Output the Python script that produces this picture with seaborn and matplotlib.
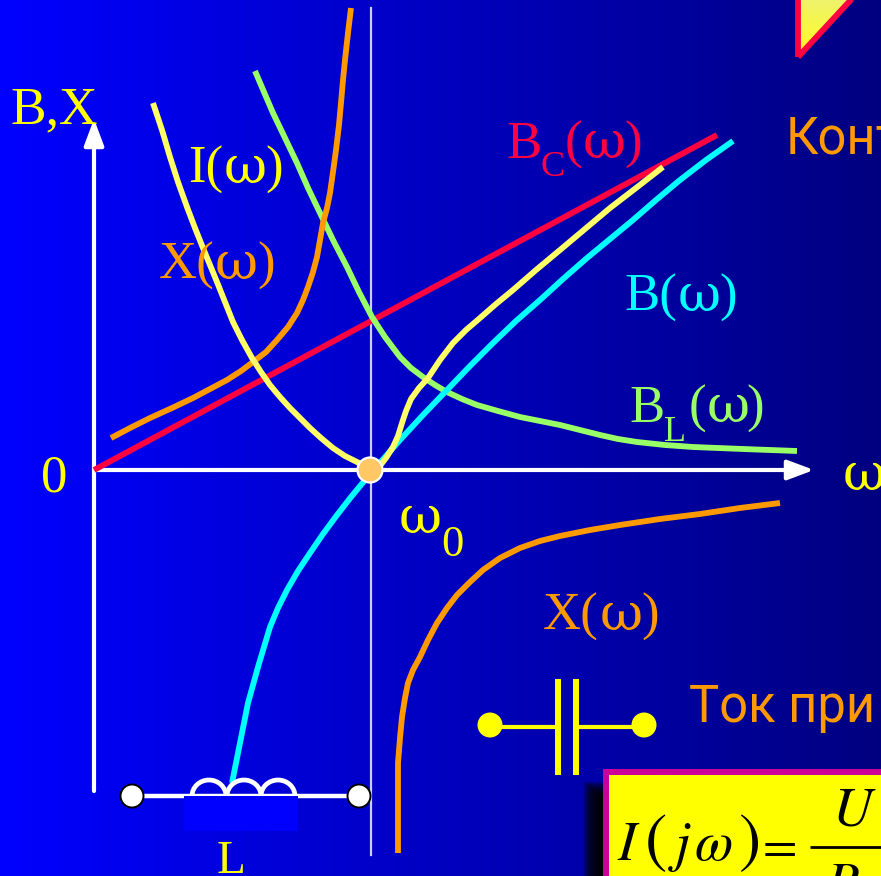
import numpy as np
import pandas as pd
import matplotlib
matplotlib.use('Agg')
import matplotlib.pyplot as plt
import seaborn as sns
from matplotlib.patches import Arc, Circle, Polygon, Rectangle

omega_bc = [0, 623]
b_c = [0, 335]

omega_bl = [161, 170, 179, 191, 203, 214, 226, 239, 253, 265, 278, 291, 306, 317, 329, 341, 353,
            368, 383, 404, 426, 446, 466, 486, 506, 524, 543, 571, 599, 624, 649, 676, 703]
b_l = [399, 378, 357, 332, 307, 282, 257, 230, 203, 178, 153, 133, 113, 102, 93, 85, 78,
       71, 65, 59, 53, 49, 45, 40, 35, 31, 28, 25, 23, 22, 21, 20, 19]

omega_b = [138, 142, 146, 150, 154, 159, 164, 170, 176, 184, 193, 204, 216, 229, 243, 257, 271,
           284, 306, 329, 353, 376, 399, 422, 446, 469, 493, 516, 539, 562, 586, 612, 639]
b_tot = [-313, -293, -273, -253, -233, -215, -197, -177, -157, -138, -120, -101, -83, -64, -45, -27, -10,
         5, 30, 55, 80, 104, 127, 149, 170, 191, 212, 231, 250, 270, 290, 310, 329]

omega_x1 = [17, 36, 56, 78, 99, 116, 133, 147, 159, 172, 183, 194, 203, 209, 214,
            219, 223, 226, 229, 233, 236, 239, 242, 245, 247, 249, 251, 254, 257]
x_upper = [32, 42, 52, 62, 72, 81, 90, 99, 108, 118, 130, 143, 157, 170, 183,
           198, 213, 230, 247, 262, 277, 298, 320, 345, 367, 390, 410, 437, 462]

omega_x2 = [304, 304, 304, 306, 308, 311, 314, 319, 326, 334, 343, 353, 363,
            376, 389, 406, 426, 446, 466, 496, 526, 566, 606, 646, 686]
x_lower = [-383, -333, -293, -268, -247, -228, -213, -200, -187, -170, -153, -138, -125,
           -112, -100, -88, -78, -71, -66, -60, -55, -49, -44, -38, -33]

omega_i = [59, 68, 76, 84, 93, 101, 109, 116, 123, 131, 139, 148, 158, 167, 176, 186, 196, 206, 216, 227, 239,
           251, 263, 277, 285, 292, 299, 304, 308, 312, 317, 325, 334, 346, 359, 372, 386, 402, 419, 442, 466,
           491, 516, 542, 569]
i_cur = [367, 340, 313, 288, 263, 242, 222, 205, 188, 168, 148, 130, 112, 98, 85, 73, 62, 52, 42, 32, 22,
         14, 8, 1, 3, 12, 23, 34, 47, 59, 71, 82, 92, 110, 127, 140, 152, 166, 180, 200, 220,
         241, 262, 282, 303]

curves = pd.concat([
    pd.DataFrame({'omega': omega_bc, 'val': b_c, 'name': 'BC'}),
    pd.DataFrame({'omega': omega_bl, 'val': b_l, 'name': 'BL'}),
    pd.DataFrame({'omega': omega_x1, 'val': x_upper, 'name': 'X1'}),
    pd.DataFrame({'omega': omega_x2, 'val': x_lower, 'name': 'X2'}),
    pd.DataFrame({'omega': omega_b, 'val': b_tot, 'name': 'B'}),
    pd.DataFrame({'omega': omega_i, 'val': i_cur, 'name': 'I'}),
])
colors = {'BC': '#FF0040', 'BL': '#99FF66', 'X1': '#FF9900', 'X2': '#FF9900',
          'B': '#00FFFF', 'I': '#FFFF66'}

X0, Y0 = 94, 470
W, H = 881, 876


def px(x, y):
    return x - X0, Y0 - y


plt.rcParams['mathtext.fontset'] = 'stix'
fig = plt.figure(figsize=(8.81, 8.76), dpi=100)
ax = fig.add_axes([0, 0, 1, 1])

# background gradient
grad = np.zeros((2, 256, 3))
grad[:, :, 2] = np.linspace(1.0, 0.5, 256)
ax.imshow(grad, extent=[-X0, W - X0, Y0 - H, Y0], aspect='auto', zorder=0)

# axes arrows and the resonance line
ax.plot(*zip(px(371, 8), px(371, 855)), color='#CCCCFF', lw=1.6, zorder=1)
arrow = dict(arrowstyle='-|>,head_length=1.6,head_width=0.6', color='white', lw=3, shrinkA=0, shrinkB=0)
ax.annotate('', xy=px(814, 470), xytext=px(94, 470), zorder=2, arrowprops=arrow)
ax.annotate('', xy=px(94, 119), xytext=px(94, 791), zorder=2, arrowprops=arrow)

sns.lineplot(data=curves, x='omega', y='val', hue='name', units='name', estimator=None, sort=False,
             palette=colors, hue_order=list(colors), linewidth=4.2, legend=False, ax=ax, zorder=3,
             solid_joinstyle='round', solid_capstyle='butt')

ax.add_patch(Circle((276, 0), 12.5, fc='#FFC864', ec='white', lw=1.6, zorder=4))

# inductor
ax.plot(*zip(px(132, 796), px(359, 796)), color='white', lw=3.2, zorder=4)
ax.add_patch(Rectangle(px(184, 831), 114, 35, fc='#0000FF', ec='none', zorder=5))
for xc in [209, 244, 278]:
    ax.add_patch(Arc(px(xc, 796), 34, 32, theta1=0, theta2=180, color='white', lw=3.4, zorder=6))
for xc in [132, 359]:
    ax.add_patch(Circle(px(xc, 796), 11.5, fc='white', ec='black', lw=1.4, zorder=6))

# capacitor
ax.plot(*zip(px(490, 727), px(555, 727)), color='#FFFF00', lw=3, zorder=4)
ax.plot(*zip(px(579, 727), px(644, 727)), color='#FFFF00', lw=3, zorder=4)
for xl in [555, 573]:
    ax.add_patch(Rectangle(px(xl, 775), 6, 96, fc='#FFFF00', ec='none', zorder=4))
for xc in [490, 644]:
    ax.add_patch(Circle(px(xc, 725), 12.5, fc='#FFFF00', ec='none', zorder=4))

# formula box with soft shadow
for i in range(9):
    ax.add_patch(Rectangle(px(584 + 2 * i, 880), 30, 98 - 2 * i, fc='black', ec='none', alpha=0.28, zorder=6))
ax.add_patch(Rectangle(px(603, 882), 300, 113, fc='#CC0099', ec='none', zorder=7))
ax.add_patch(Rectangle(px(609, 882), 300, 107, fc='#FFFF00', ec='none', zorder=7))
ax.plot(*zip(px(810, 847), px(881, 847)), color='black', lw=2, zorder=8, solid_capstyle='butt')
formula_parts = [
    (r'$I$', 617, 860, 40),
    (r'$($', 644, 860, 48),
    (r'$j$', 668, 860, 40),
    (r'$\omega$', 694, 860, 40),
    (r'$)$', 738, 860, 48),
    (r'$=$', 755, 860, 36),
    (r'$U$', 832, 825, 40),
    (r'$R$', 825, 901, 40),
]
for txt, x, y, size in formula_parts:
    ax.text(*px(x, y), txt, fontsize=size, color='black', zorder=8, va='baseline')

# triangle in the corner
tri = Polygon([px(798, 57), px(798, -10), px(860, -10)], closed=True, fc='none', ec='#FF0040', lw=4.2,
              joinstyle='miter', zorder=5)
ax.add_patch(tri)
fill = np.zeros((64, 2, 3))
fill[:, :, 0] = np.linspace(0.92, 1.0, 64)[:, None]
fill[:, :, 1] = np.linspace(0.94, 1.0, 64)[:, None]
fill[:, :, 2] = np.linspace(0.48, 0.1, 64)[:, None]
im = ax.imshow(fill, extent=[px(795, 0)[0], px(860, 0)[0], px(0, 56)[1], px(0, -10)[1]], aspect='auto', zorder=4)
im.set_clip_path(tri)

SERIF = 'Liberation Serif'
OMEGA_FONT = 'DejaVu Serif'
SANS = 'Roboto'
serif_labels = [
    ('B,X', 10, 123, '#FFFF00', 38.5),
    ('I(', 188, 183, '#FFFF00', 38),
    (')', 265, 183, '#FFFF00', 38),
    ('X(', 159, 279, '#FF9900', 38),
    (')', 257, 279, '#FF9900', 38),
    ('B', 506, 158, '#FF0040', 38),
    ('C', 541, 176, '#FF0040', 26),
    ('(', 565, 158, '#FF0040', 38),
    (')', 624, 158, '#FF0040', 38),
    ('B(', 624, 311, '#00FFFF', 38),
    (')', 719, 311, '#00FFFF', 38),
    ('B', 629, 422, '#99FF66', 38),
    ('L', 664, 441, '#99FF66', 26),
    ('(', 689, 422, '#99FF66', 38),
    (')', 746, 422, '#99FF66', 38),
    ('0', 41, 491, '#FFFF00', 38),
    ('0', 441, 556, '#FFFF00', 32),
    ('X(', 543, 630, '#FF9900', 38),
    (')', 641, 630, '#FF9900', 38),
    ('L', 217, 873, '#FFFF00', 34),
]
for txt, x, y, col, size in serif_labels:
    ax.text(*px(x, y), txt, color=col, fontsize=size, family=SERIF, va='baseline', zorder=9)
omega_labels = [
    (224, 183, '#FFFF00'),
    (215, 279, '#FF9900'),
    (583, 158, '#FF0040'),
    (678, 311, '#00FFFF'),
    (707, 422, '#99FF66'),
    (843, 490, '#FFFF00'),
    (399, 533, '#FFFF00'),
    (600, 630, '#FF9900'),
]
for x, y, col in omega_labels:
    ax.text(*px(x, y), 'ω', color=col, fontsize=38, family=OMEGA_FONT, va='baseline', zorder=9)
ax.text(*px(786, 153), 'Конт', color='#FF9900', fontsize=36.5, family=SANS, va='baseline', zorder=9)
ax.text(*px(689, 722), 'Ток при', color='#FF9900', fontsize=36.5, family=SANS, va='baseline', zorder=9)

ax.set_xlim(-X0, W - X0)
ax.set_ylim(Y0 - H, Y0)
ax.axis('off')
fig.savefig('out.png', dpi=100)
plt.close(fig)
